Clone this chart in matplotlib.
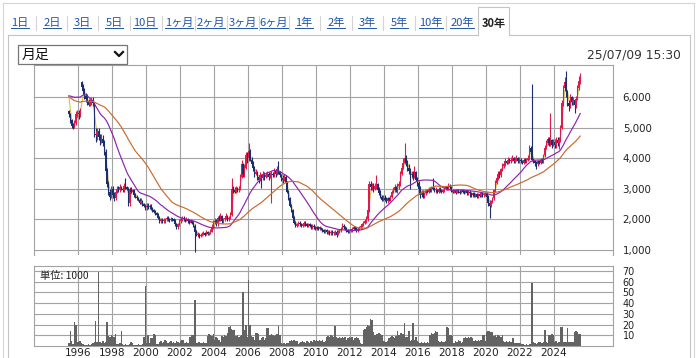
import numpy as np
import pandas as pd
import matplotlib
matplotlib.use("Agg")
import matplotlib.pyplot as plt
from matplotlib.lines import Line2D
from matplotlib.patches import Rectangle

# ---------------- data (monthly, from 1995-06 to 2025-07) ----------------
start_year, start_month = 1995, 6

# closes before the visible window (1993-06 .. 1995-05), estimated from where the
# moving averages start; used only to warm up the averages, not drawn
prior_closes = [5300, 5350, 5400, 5350, 5400, 5450, 5400, 5500, 5450, 5500, 5550, 5600,
                6300, 6500, 6700, 6800, 6900, 6800, 6900, 6800, 6700, 6600, 6500, 6200]

close_1995 = [5450, 5250, 5050, 5000, 5150, 5450, 5500]
close_1996 = [5450, 5500, 6350, 6200, 6050, 5950, 5850, 5750, 5850, 5900, 5800, 4800]
close_1997 = [4750, 4900, 4700, 4600, 4650, 4500, 4200, 3600, 3150, 2900, 2750, 3000]
close_1998 = [2800, 2700, 2900, 3000, 2950, 3050, 3000, 2950, 3100, 3050, 3000, 2550]
close_1999 = [3000, 2900, 2950, 2800, 2750, 2700, 2650, 2550, 2600, 2500, 2450, 2400]
close_2000 = [2450, 2400, 2450, 2350, 2300, 2250, 2200, 2150, 2050, 1950, 2000, 1950]
close_2001 = [1950, 2000, 2050, 2000, 1980, 2020, 2000, 1950, 1850, 1750, 1850, 1950]
close_2002 = [2000, 2050, 2000, 1980, 2020, 1950, 1900, 1950, 1900, 1800, 1600, 1500]
close_2003 = [1500, 1450, 1480, 1520, 1550, 1500, 1580, 1520, 1550, 1600, 1750, 1900]
close_2004 = [1950, 1850, 2050, 2000, 2100, 1950, 2000, 2050, 2100, 2000, 2050, 2150]
close_2005 = [3000, 2950, 2900, 3000, 2950, 3000, 3400, 3800, 3500, 3700, 4100, 4000]
close_2006 = [4250, 3950, 3800, 3700, 3500, 3550, 3400, 3300, 3450, 3350, 3500, 3400]
close_2007 = [3450, 3500, 3400, 3450, 3500, 3450, 3600, 3500, 3650, 3550, 3450, 3350]
close_2008 = [3300, 3400, 3200, 2900, 2700, 2450, 2300, 2050, 1900, 1800, 1850, 1900]
close_2009 = [1850, 1800, 1850, 1900, 1850, 1800, 1850, 1800, 1750, 1800, 1750, 1700]
close_2010 = [1750, 1700, 1720, 1680, 1650, 1600, 1650, 1580, 1600, 1550, 1600, 1550]
close_2011 = [1550, 1600, 1500, 1600, 1650, 1700, 1800, 1750, 1700, 1650, 1600, 1650]
close_2012 = [1650, 1700, 1750, 1700, 1650, 1700, 1750, 1800, 1850, 1900, 1950, 2000]
close_2013 = [2300, 3150, 3050, 3100, 3000, 3100, 3150, 2950, 2850, 2750, 2650, 2700]
close_2014 = [2650, 2600, 2700, 2650, 2750, 2900, 2950, 3050, 2950, 3100, 3150, 3500]
close_2015 = [3700, 3850, 4000, 3850, 3700, 3600, 3450, 3500, 3400, 3550, 3300, 3200]
close_2016 = [3000, 2800, 2900, 2750, 2850, 2950, 2900, 3000, 2950, 3050, 3000, 2950]
close_2017 = [2950, 2900, 3000, 2950, 2900, 2950, 3000, 3050, 3000, 3100, 3050, 2950]
close_2018 = [2900, 2950, 2880, 2950, 2900, 2870, 2950, 2900, 2880, 2920, 2850, 2900]
close_2019 = [2850, 2800, 2850, 2780, 2820, 2750, 2800, 2780, 2850, 2800, 2830, 2850]
close_2020 = [2750, 2550, 2450, 2600, 2700, 2950, 3200, 3350, 3500, 3450, 3650, 3750]
close_2021 = [3800, 3900, 3850, 3950, 3900, 3950, 4000, 3900, 3950, 4000, 3900, 3950]
close_2022 = [3900, 3850, 3950, 3900, 3950, 4000, 4350, 4200, 3950, 3900, 3850, 3800]
close_2023 = [3900, 3850, 3950, 3900, 4100, 4350, 4500, 4650, 4500, 4600, 4450, 4550]
close_2024 = [4450, 4600, 4500, 4600, 5000, 5800, 6300, 6500, 6200, 5800, 5700, 6000]
close_2025 = [5850, 5900, 5750, 5950, 6300, 6550, 6750]

high_1995 = [5600, 5500, 5300, 5150, 5250, 5550, 5600]
high_1996 = [5600, 5650, 6550, 6450, 6300, 6150, 6100, 5950, 5950, 6000, 6000, 5850]
high_1997 = [5000, 5000, 5000, 4800, 4800, 4750, 4600, 4300, 3700, 3250, 3000, 3100]
high_1998 = [3100, 2900, 3000, 3100, 3100, 3150, 3100, 3050, 3200, 3360, 3100, 3050]
high_1999 = [3050, 3050, 3000, 3000, 2850, 2800, 2750, 2700, 2700, 2650, 2550, 2500]
high_2000 = [2550, 2550, 2500, 2500, 2400, 2350, 2300, 2250, 2200, 2100, 2050, 2050]
high_2001 = [2050, 2050, 2100, 2100, 2050, 2080, 2050, 2050, 2000, 1900, 1900, 2000]
high_2002 = [2050, 2100, 2100, 2050, 2080, 2050, 2000, 2000, 1980, 1950, 1850, 1650]
high_2003 = [1600, 1550, 1550, 1580, 1620, 1600, 1650, 1620, 1600, 1680, 1850, 1980]
high_2004 = [2050, 2000, 2100, 2150, 2200, 2150, 2050, 2100, 2200, 2150, 2100, 2250]
high_2005 = [3360, 3100, 3050, 3100, 3050, 3100, 3500, 3950, 3850, 3800, 4200, 4200]
high_2006 = [4520, 4300, 4050, 3900, 3750, 3650, 3600, 3450, 3550, 3500, 3600, 3550]
high_2007 = [3550, 3600, 3550, 3550, 3600, 3550, 3700, 3650, 3750, 3900, 3600, 3500]
high_2008 = [3450, 3500, 3450, 3250, 2950, 2750, 2500, 2350, 2100, 1950, 1900, 1950]
high_2009 = [1950, 1900, 1900, 1950, 1950, 1900, 1900, 1900, 1850, 1850, 1850, 1800]
high_2010 = [1800, 1800, 1780, 1760, 1720, 1700, 1700, 1680, 1650, 1640, 1650, 1650]
high_2011 = [1620, 1650, 1650, 1650, 1700, 1750, 1880, 1850, 1780, 1750, 1700, 1700]
high_2012 = [1700, 1750, 1800, 1800, 1750, 1750, 1800, 1850, 1900, 1950, 2000, 2100]
high_2013 = [2400, 3250, 3250, 3200, 3200, 3200, 3470, 3200, 3050, 2950, 2800, 2800]
high_2014 = [2800, 2750, 2750, 2750, 2800, 2950, 3050, 3150, 3100, 3200, 3250, 3600]
high_2015 = [3800, 4000, 4520, 4100, 3950, 3800, 3700, 3600, 3600, 3750, 3600, 3400]
high_2016 = [3250, 3100, 2950, 2950, 2900, 3000, 3000, 3050, 3050, 3100, 3360, 3050]
high_2017 = [3050, 3000, 3050, 3050, 3000, 3000, 3050, 3100, 3100, 3200, 3150, 3100]
high_2018 = [3000, 3000, 3000, 3000, 3000, 2950, 3000, 3000, 2950, 2980, 2950, 2950]
high_2019 = [2950, 2900, 2900, 2900, 2880, 2850, 2850, 2850, 2900, 2900, 2880, 2900]
high_2020 = [2900, 2800, 2650, 2650, 2750, 3000, 3300, 3450, 3600, 3600, 3700, 3850]
high_2021 = [3900, 4000, 3950, 4050, 4000, 4050, 4100, 4050, 4050, 4100, 4050, 4050]
high_2022 = [4000, 3950, 4000, 4000, 4000, 4100, 4450, 4400, 6450, 4000, 3950, 3900]
high_2023 = [3950, 3950, 4000, 4000, 4150, 4450, 4600, 4700, 4700, 5500, 4650, 4650]
high_2024 = [4650, 4700, 4700, 4700, 5100, 5900, 6400, 6650, 6850, 6250, 5900, 6100]
high_2025 = [6050, 6000, 5950, 6050, 6400, 6700, 6800]

low_1995 = [5350, 5150, 4980, 4950, 4980, 5100, 5350]
low_1996 = [5300, 5350, 6300, 6100, 5950, 5850, 5750, 5700, 5700, 5750, 5700, 4700]
low_1997 = [4550, 4600, 4600, 4450, 4500, 4400, 4100, 3500, 3050, 2800, 2650, 2700]
low_1998 = [2700, 2600, 2650, 2850, 2900, 2900, 2950, 2900, 2900, 3000, 2950, 2450]
low_1999 = [2450, 2850, 2850, 2750, 2700, 2650, 2600, 2500, 2500, 2450, 2400, 2300]
low_2000 = [2300, 2350, 2350, 2300, 2250, 2200, 2150, 2100, 2000, 1900, 1900, 1900]
low_2001 = [1900, 1900, 1950, 1950, 1930, 1950, 1950, 1900, 1800, 1700, 1700, 1800]
low_2002 = [1900, 1950, 1950, 1930, 1950, 1900, 1850, 1870, 1850, 1750, 940, 1450]
low_2003 = [1420, 1400, 1420, 1450, 1480, 1450, 1480, 1480, 1480, 1520, 1580, 1700]
low_2004 = [1850, 1800, 1800, 1950, 1950, 1900, 1900, 1950, 2000, 1950, 1950, 2000]
low_2005 = [2100, 2850, 2850, 2850, 2900, 2900, 2950, 3350, 3400, 3400, 3650, 3850]
low_2006 = [3900, 3900, 3750, 3600, 3400, 3450, 3300, 3200, 3250, 3030, 3300, 3300]
low_2007 = [3350, 3400, 3300, 3350, 2540, 3400, 3400, 3400, 3450, 3500, 3400, 3250]
low_2008 = [3200, 3250, 3150, 2850, 2650, 2400, 2250, 2000, 1850, 1750, 1750, 1800]
low_2009 = [1800, 1750, 1750, 1800, 1800, 1750, 1750, 1750, 1700, 1700, 1700, 1650]
low_2010 = [1650, 1650, 1660, 1640, 1600, 1550, 1550, 1540, 1540, 1500, 1500, 1500]
low_2011 = [1500, 1500, 1420, 1480, 1550, 1600, 1680, 1700, 1650, 1600, 1550, 1550]
low_2012 = [1600, 1600, 1650, 1650, 1600, 1600, 1650, 1700, 1750, 1800, 1850, 1900]
low_2013 = [1950, 2250, 2950, 2950, 2900, 2950, 3000, 2900, 2800, 2700, 2600, 2600]
low_2014 = [2600, 2550, 2550, 2600, 2600, 2700, 2850, 2900, 2900, 2850, 3000, 3100]
low_2015 = [3450, 3650, 3800, 3750, 3600, 3500, 3000, 3350, 3300, 3350, 3250, 3100]
low_2016 = [2900, 2700, 2750, 2700, 2700, 2800, 2850, 2850, 2900, 2900, 2950, 2900]
low_2017 = [2850, 2850, 2850, 2900, 2850, 2850, 2900, 2950, 2950, 2950, 3000, 2900]
low_2018 = [2850, 2850, 2830, 2850, 2850, 2820, 2850, 2850, 2830, 2850, 2800, 2800]
low_2019 = [2750, 2750, 2750, 2720, 2730, 2700, 2700, 2720, 2750, 2750, 2750, 2780]
low_2020 = [2700, 2450, 2050, 2400, 2550, 2650, 2900, 3150, 3300, 3350, 3400, 3600]
low_2021 = [3700, 3750, 3800, 3800, 3850, 3850, 3900, 3850, 3850, 3900, 3850, 3850]
low_2022 = [3850, 3800, 3800, 3850, 3850, 3900, 3950, 4100, 3900, 3850, 3750, 3650]
low_2023 = [3750, 3800, 3800, 3850, 3850, 4050, 4300, 4450, 4400, 4400, 4350, 4400]
low_2024 = [4350, 4350, 4400, 4300, 4550, 4950, 5700, 6200, 6000, 5700, 5550, 5650]
low_2025 = [5750, 5750, 5500, 5650, 5900, 6250, 6450]

open_override = {"1995-06": 5550, "1996-03": 6500}

# volume, unit 1000 shares
vol_1995 = [3, 14, 5, 2, 22, 20, 4]
vol_1996 = [4, 5, 3, 2, 1, 1, 1, 2, 1, 2, 3, 4]
vol_1997 = [23, 4, 69, 4, 3, 5, 3, 4, 22, 9, 8, 10]
vol_1998 = [9, 8, 11, 2, 2, 3, 14, 2, 1, 2, 1, 1]
vol_1999 = [2, 4, 3, 1, 1, 1, 2, 1, 1, 2, 8, 56]
vol_2000 = [3, 10, 3, 7, 7, 11, 10, 2, 2, 4, 5, 3]
vol_2001 = [4, 6, 5, 3, 4, 5, 3, 4, 3, 5, 4, 3]
vol_2002 = [5, 6, 6, 3, 4, 3, 8, 8, 10, 10, 43, 3]
vol_2003 = [3, 4, 3, 3, 4, 3, 3, 9, 11, 10, 9, 11]
vol_2004 = [6, 8, 7, 6, 4, 9, 8, 10, 9, 12, 18, 19]
vol_2005 = [16, 15, 15, 9, 10, 8, 9, 10, 50, 15, 20, 8]
vol_2006 = [61, 20, 9, 8, 6, 12, 12, 11, 6, 7, 8, 6]
vol_2007 = [7, 17, 17, 10, 11, 10, 9, 10, 11, 19, 10, 3]
vol_2008 = [2, 3, 2, 3, 3, 5, 6, 5, 6, 5, 5, 2]
vol_2009 = [3, 4, 5, 4, 3, 5, 4, 3, 5, 4, 6, 5]
vol_2010 = [6, 5, 6, 5, 6, 4, 5, 8, 9, 8, 10, 9]
vol_2011 = [8, 19, 8, 7, 8, 7, 8, 7, 8, 6, 7, 8]
vol_2012 = [7, 8, 6, 7, 8, 7, 6, 3, 2, 15, 16, 18]
vol_2013 = [20, 19, 25, 24, 13, 10, 11, 11, 12, 11, 10, 5]
vol_2014 = [5, 4, 5, 7, 8, 9, 8, 7, 9, 14, 10, 12]
vol_2015 = [12, 11, 21, 8, 8, 14, 5, 6, 21, 6, 8, 5]
vol_2016 = [4, 3, 4, 3, 4, 3, 4, 3, 10, 12, 11, 12]
vol_2017 = [14, 13, 5, 4, 5, 4, 4, 5, 18, 17, 10, 10]
vol_2018 = [9, 3, 5, 4, 6, 5, 3, 4, 7, 8, 7, 8]
vol_2019 = [7, 8, 7, 5, 6, 5, 6, 5, 6, 10, 10, 5]
vol_2020 = [13, 14, 14, 13, 13, 9, 10, 8, 10, 9, 8, 10]
vol_2021 = [5, 4, 5, 4, 5, 4, 7, 7, 3, 3, 3, 3]
vol_2022 = [3, 2, 2, 1, 2, 1, 2, 2, 59, 4, 3, 2]
vol_2023 = [3, 4, 4, 3, 4, 15, 4, 3, 10, 10, 11, 10]
vol_2024 = [4, 5, 3, 4, 18, 18, 4, 4, 4, 17, 4, 4]
vol_2025 = [4, 4, 13, 14, 13, 11, 11]

ma_windows = [3, 24, 48]
ma_colors = ["#d2c64a", "#8e22b0", "#cc6a2c"]

price_ticks = [1000, 2000, 3000, 4000, 5000, 6000]
vol_ticks = [10, 20, 30, 40, 50, 60, 70]
year_ticks = list(range(1996, 2025, 2))
tabs = ["1日", "2日", "3日", "5日", "10日", "1ヶ月", "2ヶ月", "3ヶ月", "6ヶ月",
        "1年", "2年", "3年", "5年", "10年", "20年", "30年"]
timestamp = "25/07/09 15:30"

# ---------------- assemble ----------------
g = globals()
closes, highs, lows, vols = [], [], [], []
for y in range(1995, 2026):
    closes += g[f"close_{y}"]
    highs += g[f"high_{y}"]
    lows += g[f"low_{y}"]
    vols += g[f"vol_{y}"]
closes = np.array(closes, float)
highs = np.array(highs, float)
lows = np.array(lows, float)
vols = np.array(vols, float)
n = len(closes)
keys, xs = [], []
for i in range(n):
    mm = start_month - 1 + i
    yy = start_year + mm // 12
    mo = mm % 12 + 1
    keys.append(f"{yy}-{mo:02d}")
    xs.append(yy + (mo - 1 + 0.5) / 12)
xs = np.array(xs)

opens = np.empty(n)
opens[1:] = closes[:-1]
opens[0] = closes[0]
for i, k in enumerate(keys):
    if k in open_override:
        opens[i] = open_override[k]

full = pd.Series(np.concatenate([np.array(prior_closes, float), closes]))
npr = len(prior_closes)
mas = [full.rolling(w, min_periods=1).mean().values[npr:] for w in ma_windows]

# ---------------- figure ----------------
W, H = 699, 358
fig = plt.figure(figsize=(W / 100, H / 100), dpi=100)
fig.patch.set_facecolor("white")

def fx(px):
    return px / W

def fy(py):
    return 1 - py / H

CJK = ["Noto Sans CJK JP", "DejaVu Sans"]
grid_c = "#a3a3a3"

# frames
fig.add_artist(Line2D([fx(3), fx(3)], [fy(3), fy(360)], color="#d6d6d6", lw=0.8))
fig.add_artist(Line2D([fx(3), fx(694)], [fy(3), fy(3)], color="#d6d6d6", lw=0.8))
fig.add_artist(Line2D([fx(694), fx(694)], [fy(3), fy(360)], color="#d6d6d6", lw=0.8))
fig.add_artist(Line2D([fx(8), fx(8)], [fy(35), fy(360)], color="#c4c4c4", lw=0.8))
fig.add_artist(Line2D([fx(690), fx(690)], [fy(35), fy(360)], color="#c4c4c4", lw=0.8))
fig.add_artist(Line2D([fx(8), fx(478)], [fy(35), fy(35)], color="#c4c4c4", lw=0.8))
fig.add_artist(Line2D([fx(509), fx(690)], [fy(35), fy(35)], color="#c4c4c4", lw=0.8))
fig.add_artist(Line2D([fx(478), fx(478), fx(509), fx(509)],
                      [fy(35), fy(7), fy(7), fy(35)], color="#c4c4c4", lw=0.8))

# tabs
tab_x = [20, 52, 82, 114, 145, 179, 211, 243, 274, 304, 336, 367, 399, 431, 462, 494]
tab_texts = []
for i, (lab, cx) in enumerate(zip(tabs, tab_x)):
    sel = (i == len(tabs) - 1)
    t = fig.text(fx(cx), fy(23), lab, ha="center", va="center", fontsize=8.0,
                 family=CJK, color="#222222" if sel else "#1f55a8",
                 fontweight="bold" if sel else "normal")
    tab_texts.append((t, sel))
for a, b in zip(tab_x[:-2], tab_x[1:-1]):
    sx = (a + b) / 2
    fig.add_artist(Line2D([fx(sx), fx(sx)], [fy(16), fy(30)], color="#d4d4d4", lw=0.8))

# dropdown
fig.add_artist(Rectangle((fx(18), fy(64)), fx(127) - fx(18), fy(45) - fy(64),
                         facecolor="white", edgecolor="#767676", lw=0.9,
                         transform=fig.transFigure))
fig.text(fx(22), fy(54.5), "月足", ha="left", va="center", fontsize=10, family=CJK,
         color="#111111")
fig.add_artist(Line2D([fx(115), fx(119), fx(123)], [fy(52), fy(56), fy(52)],
                      color="#111111", lw=1.6))

fig.text(fx(681), fy(55), timestamp, ha="right", va="center", fontsize=8.8,
         color="#333333")

# ---------------- price axes ----------------
ax = fig.add_axes([fx(34), fy(255), fx(613) - fx(34), fy(65) - fy(255)])
ax.set_xlim(1993.41, 2027.47)
ax.set_ylim(836, 7058)
ax.set_axisbelow(True)
ax.set_xticks(year_ticks)
ax.set_yticks(price_ticks)
ax.grid(True, color=grid_c, lw=0.8)
ax.yaxis.tick_right()
ax.tick_params(axis="y", length=0, pad=7, labelsize=7.4, labelcolor="#222222")
ax.tick_params(axis="x", length=0, labelbottom=False)
ax.set_yticklabels([f"{v:,}" for v in price_ticks])
for side in ["top", "left", "right"]:
    ax.spines[side].set_color(grid_c)
    ax.spines[side].set_linewidth(0.8)
ax.spines["bottom"].set_visible(False)

up_c, dn_c = "#e0194e", "#1b2f6c"
colors = np.where(closes >= opens, up_c, dn_c)
ax.plot(xs, mas[0], color=ma_colors[0], lw=0.8, zorder=2.5)
ax.vlines(xs, lows, highs, colors=colors, lw=0.8, zorder=3)
body_bot = np.minimum(opens, closes)
body_h = np.maximum(np.abs(closes - opens), 40)
ax.bar(xs, body_h, bottom=body_bot, width=0.08, color=colors, linewidth=0, zorder=3)
for m, c in zip(mas[1:], ma_colors[1:]):
    ax.plot(xs, m, color=c, lw=0.85, zorder=4)

# ---------------- volume axes ----------------
ax2 = fig.add_axes([fx(34), fy(346), fx(613) - fx(34), fy(266) - fy(346)])
ax2.set_xlim(1993.41, 2027.47)
ax2.set_ylim(0, 74.5)
ax2.set_axisbelow(True)
ax2.set_xticks(year_ticks)
ax2.set_yticks(vol_ticks)
ax2.grid(True, color=grid_c, lw=0.8)
ax2.yaxis.tick_right()
ax2.tick_params(axis="y", length=0, pad=7, labelsize=6.9, labelcolor="#222222")
ax2.tick_params(axis="x", length=0, pad=1.5, labelsize=7.6, labelcolor="#222222")
for side in ax2.spines:
    ax2.spines[side].set_color(grid_c)
    ax2.spines[side].set_linewidth(0.8)
ax2.bar(xs, vols, width=1 / 12, color="#636363", linewidth=0, zorder=3)
ax2.text(fx(40), fy(276), "単位: 1000", transform=fig.transFigure, ha="left",
         va="center", fontsize=7.4, family=CJK, color="#222222", zorder=5)

# underline tab links
fig.canvas.draw()
r = fig.canvas.get_renderer()
for t, sel in tab_texts:
    if sel:
        continue
    bb = t.get_window_extent(renderer=r)
    yb = bb.y0 + 0.5
    fig.add_artist(Line2D([bb.x0 / W, bb.x1 / W], [yb / H, yb / H],
                          color="#1f55a8", lw=0.7))

fig.savefig("out.png", dpi=100, facecolor="white")
